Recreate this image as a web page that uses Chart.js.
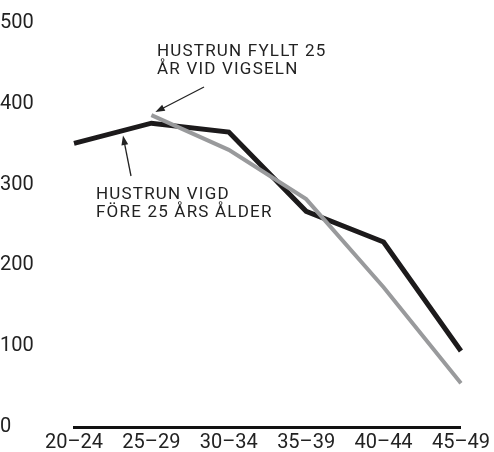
<!DOCTYPE html>
<html>
<head>
<meta charset="utf-8">
<script src="https://cdn.jsdelivr.net/npm/chart.js@4"></script>
<style>
  html, body { margin: 0; padding: 0; background: #fff; }
  #wrap { width: 494px; height: 452px; }
</style>
</head>
<body>
<div id="wrap"><canvas id="chart" width="494" height="452"></canvas></div>
<script>
// age groups of the wife
const ageGroups = ["20–24", "25–29", "30–34", "35–39", "40–44", "45–49"];
// wife married before age 25
const marriedBefore25 = [351, 376, 365, 267, 229, 94];
// wife had turned 25 at the wedding
const turned25 = [null, 386, 343, 282, 173, 54];
const yTicks = [0, 100, 200, 300, 400, 500];

const FONT = "Roboto, 'Liberation Sans', sans-serif";

// text labels with arrows pointing at the lines
const notes = {
  id: "notes",
  afterDatasetsDraw(chart) {
    const { ctx, scales: { x, y } } = chart;
    ctx.save();
    ctx.fillStyle = "#222";
    ctx.font = "17px " + FONT;
    ctx.textBaseline = "alphabetic";
    ctx.letterSpacing = "1.2px";
    ctx.fillText("HUSTRUN FYLLT 25", 157, 56);
    ctx.fillText("ÅR VID VIGSELN", 157, 74);
    ctx.fillText("HUSTRUN VIGD", 96, 199);
    ctx.fillText("FÖRE 25 ÅRS ÅLDER", 96, 217);

    // arrow to the grey line start
    const gx = x.getPixelForValue(1) + 4, gy = y.getPixelForValue(turned25[1]) - 3;
    arrow(ctx, 204, 87, gx, gy);
    // arrow to the black line
    const x0 = x.getPixelForValue(0), x1 = x.getPixelForValue(1);
    const bx = x0 + 49;
    const by = y.getPixelForValue(marriedBefore25[0] + (marriedBefore25[1] - marriedBefore25[0]) * 49 / (x1 - x0)) + 5;
    arrow(ctx, 131, 176, bx, by);
    ctx.restore();
  }
};

function arrow(ctx, x0, y0, x1, y1) {
  const a = Math.atan2(y1 - y0, x1 - x0);
  ctx.strokeStyle = "#222";
  ctx.lineWidth = 1.3;
  ctx.beginPath();
  ctx.moveTo(x0, y0);
  ctx.lineTo(x1 - Math.cos(a) * 4, y1 - Math.sin(a) * 4);
  ctx.stroke();
  ctx.fillStyle = "#222";
  ctx.beginPath();
  ctx.moveTo(x1, y1);
  ctx.lineTo(x1 - Math.cos(a - 0.35) * 10, y1 - Math.sin(a - 0.35) * 10);
  ctx.lineTo(x1 - Math.cos(a + 0.35) * 10, y1 - Math.sin(a + 0.35) * 10);
  ctx.closePath();
  ctx.fill();
}

new Chart(document.getElementById("chart"), {
  type: "line",
  data: {
    labels: ageGroups,
    datasets: [
      {
        data: turned25,
        borderColor: "#999a9c",
        borderWidth: 4,
        pointRadius: 0,
        tension: 0,
        spanGaps: false
      },
      {
        data: marriedBefore25,
        borderColor: "#1c1a1b",
        borderWidth: 5,
        pointRadius: 0,
        tension: 0
      }
    ]
  },
  options: {
    responsive: false,
    animation: false,
    layout: { padding: { top: 23, right: 31, bottom: 0, left: 0 } },
    plugins: { legend: { display: false }, tooltip: { enabled: false } },
    scales: {
      x: {
        offset: false,
        grid: { display: false, drawTicks: false, tickLength: 0 },
        border: { display: true, color: "#111", width: 3 },
        afterFit(scale) { scale.height = 25; },
        ticks: {
          color: "#222",
          font: { family: FONT, size: 20 },
          padding: 4,
          maxRotation: 0,
          autoSkip: false
        }
      },
      y: {
        min: 0,
        max: 500,
        grid: { display: false },
        border: { display: false },
        afterBuildTicks(scale) {
          scale.ticks = yTicks.map(v => ({ value: v }));
        },
        afterFit(scale) { scale.width = 74; },
        ticks: {
          color: "#222",
          font: { family: FONT, size: 20 },
          crossAlign: "far",
          padding: 7
        }
      }
    }
  },
  plugins: [notes]
});
</script>
</body>
</html>
